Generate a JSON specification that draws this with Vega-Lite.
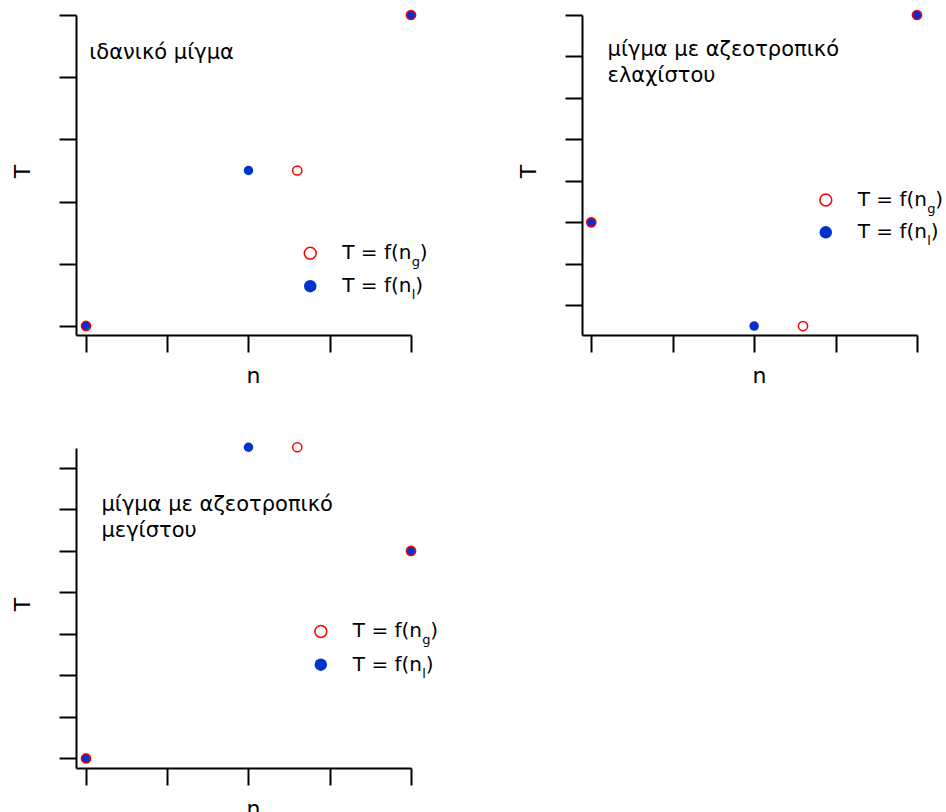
{
 "$schema": "https://vega.github.io/schema/vega-lite/v6.json",
 "padding": {"left": 11, "top": 7, "right": 0, "bottom": 0},
 "background": "white",
 "bounds": "flush",
 "columns": 2,
 "spacing": {"row": 113, "column": 171},
 "datasets": {"pts": [
  {"panel":"a","series":"g","n":0,"T":0},
  {"panel":"a","series":"g","n":2.6,"T":2.5},
  {"panel":"a","series":"g","n":4,"T":5},
  {"panel":"a","series":"l","n":0,"T":0},
  {"panel":"a","series":"l","n":2,"T":2.5},
  {"panel":"a","series":"l","n":4,"T":5},
  {"panel":"b","series":"g","n":0,"T":2},
  {"panel":"b","series":"g","n":2.6,"T":-0.5},
  {"panel":"b","series":"g","n":4,"T":7},
  {"panel":"b","series":"l","n":0,"T":2},
  {"panel":"b","series":"l","n":2,"T":-0.5},
  {"panel":"b","series":"l","n":4,"T":7},
  {"panel":"c","series":"g","n":0,"T":0},
  {"panel":"c","series":"g","n":2.6,"T":7.5},
  {"panel":"c","series":"g","n":4,"T":5},
  {"panel":"c","series":"l","n":0,"T":0},
  {"panel":"c","series":"l","n":2,"T":7.5},
  {"panel":"c","series":"l","n":4,"T":5}
 ]},
 "concat": [
  {
   "width": 335, "height": 320,
   "data": {"name": "pts"},
   "transform": [{"filter": "datum.panel === 'a'"}],
   "layer": [
    {"transform": [{"filter": "datum.series === 'l'"}],
     "mark": {"type": "point", "shape": "circle", "filled": true, "color": "#0033cc", "size": 90, "opacity": 1},
     "encoding": {
      "x": {"field": "n", "type": "quantitative", "scale": {"domain": [-0.123, 4], "nice": false, "zero": false}, "axis": {"values": [0,1,2,3,4], "title": "n"}},
      "y": {"field": "T", "type": "quantitative", "scale": {"domain": [-0.145, 5], "nice": false, "zero": false}, "axis": {"values": [0,1,2,3,4,5], "title": "T"}}
     }},
    {"transform": [{"filter": "datum.series === 'g'"}],
     "mark": {"type": "point", "shape": "circle", "filled": false, "color": "#ff0000", "size": 85, "strokeWidth": 1.5, "opacity": 1},
     "encoding": {"x": {"field": "n", "type": "quantitative"}, "y": {"field": "T", "type": "quantitative"}}},
    {"data": {"values": [{}]},
     "mark": {"type": "text", "text": ["ιδανικό μίγμα"], "align": "left", "baseline": "alphabetic", "fontSize": 21, "font": "DejaVu Sans", "color": "black", "lineHeight": 26},
     "encoding": {"x": {"datum": 0.04}, "y": {"datum": 4.29}}},
    {"data": {"values": [{}]},
     "mark": {"type": "point", "shape": "circle", "filled": false, "color": "#ff0000", "size": 140, "strokeWidth": 1.5, "opacity": 1},
     "encoding": {"x": {"datum": 2.76}, "y": {"datum": 1.17}}},
    {"data": {"values": [{}]},
     "mark": {"type": "point", "shape": "circle", "filled": true, "color": "#0033cc", "size": 155, "opacity": 1},
     "encoding": {"x": {"datum": 2.76}, "y": {"datum": 0.64}}},
    {"data": {"values": [{}]},
     "mark": {"type": "text", "text": "T = f(n", "align": "left", "baseline": "alphabetic", "dx": 32, "dy": 6, "fontSize": 20, "font": "DejaVu Sans", "color": "black"},
     "encoding": {"x": {"datum": 2.76}, "y": {"datum": 1.17}}},
    {"data": {"values": [{}]},
     "mark": {"type": "text", "text": "g", "align": "left", "baseline": "alphabetic", "dx": 101.5, "dy": 13, "fontSize": 13, "font": "DejaVu Sans", "color": "black"},
     "encoding": {"x": {"datum": 2.76}, "y": {"datum": 1.17}}},
    {"data": {"values": [{}]},
     "mark": {"type": "text", "text": ")", "align": "left", "baseline": "alphabetic", "dx": 109.5, "dy": 6, "fontSize": 20, "font": "DejaVu Sans", "color": "black"},
     "encoding": {"x": {"datum": 2.76}, "y": {"datum": 1.17}}},
    {"data": {"values": [{}]},
     "mark": {"type": "text", "text": "T = f(n", "align": "left", "baseline": "alphabetic", "dx": 32, "dy": 6, "fontSize": 20, "font": "DejaVu Sans", "color": "black"},
     "encoding": {"x": {"datum": 2.76}, "y": {"datum": 0.64}}},
    {"data": {"values": [{}]},
     "mark": {"type": "text", "text": "l", "align": "left", "baseline": "alphabetic", "dx": 101.5, "dy": 13, "fontSize": 13, "font": "DejaVu Sans", "color": "black"},
     "encoding": {"x": {"datum": 2.76}, "y": {"datum": 0.64}}},
    {"data": {"values": [{}]},
     "mark": {"type": "text", "text": ")", "align": "left", "baseline": "alphabetic", "dx": 105, "dy": 6, "fontSize": 20, "font": "DejaVu Sans", "color": "black"},
     "encoding": {"x": {"datum": 2.76}, "y": {"datum": 0.64}}}
   ]
  },
  {
   "width": 335, "height": 320,
   "data": {"name": "pts"},
   "transform": [{"filter": "datum.panel === 'b'"}],
   "layer": [
    {"transform": [{"filter": "datum.series === 'l'"}],
     "mark": {"type": "point", "shape": "circle", "filled": true, "color": "#0033cc", "size": 90, "opacity": 1},
     "encoding": {
      "x": {"field": "n", "type": "quantitative", "scale": {"domain": [-0.114, 4], "nice": false, "zero": false}, "axis": {"values": [0,1,2,3,4], "title": "n"}},
      "y": {"field": "T", "type": "quantitative", "scale": {"domain": [-0.716, 7], "nice": false, "zero": false}, "axis": {"values": [0,1,2,3,4,5,6,7], "title": "T"}}
     }},
    {"transform": [{"filter": "datum.series === 'g'"}],
     "mark": {"type": "point", "shape": "circle", "filled": false, "color": "#ff0000", "size": 85, "strokeWidth": 1.5, "opacity": 1},
     "encoding": {"x": {"field": "n", "type": "quantitative"}, "y": {"field": "T", "type": "quantitative"}}},
    {"data": {"values": [{}]},
     "mark": {"type": "text", "text": ["μίγμα με αζεοτροπικό", "ελαχίστου"], "align": "left", "baseline": "alphabetic", "fontSize": 21, "font": "DejaVu Sans", "color": "black", "lineHeight": 26},
     "encoding": {"x": {"datum": 0.2}, "y": {"datum": 6.0}}},
    {"data": {"values": [{}]},
     "mark": {"type": "point", "shape": "circle", "filled": false, "color": "#ff0000", "size": 140, "strokeWidth": 1.5, "opacity": 1},
     "encoding": {"x": {"datum": 2.88}, "y": {"datum": 2.54}}},
    {"data": {"values": [{}]},
     "mark": {"type": "point", "shape": "circle", "filled": true, "color": "#0033cc", "size": 155, "opacity": 1},
     "encoding": {"x": {"datum": 2.88}, "y": {"datum": 1.76}}},
    {"data": {"values": [{}]},
     "mark": {"type": "text", "text": "T = f(n", "align": "left", "baseline": "alphabetic", "dx": 32, "dy": 6, "fontSize": 20, "font": "DejaVu Sans", "color": "black"},
     "encoding": {"x": {"datum": 2.88}, "y": {"datum": 2.54}}},
    {"data": {"values": [{}]},
     "mark": {"type": "text", "text": "g", "align": "left", "baseline": "alphabetic", "dx": 101.5, "dy": 13, "fontSize": 13, "font": "DejaVu Sans", "color": "black"},
     "encoding": {"x": {"datum": 2.88}, "y": {"datum": 2.54}}},
    {"data": {"values": [{}]},
     "mark": {"type": "text", "text": ")", "align": "left", "baseline": "alphabetic", "dx": 109.5, "dy": 6, "fontSize": 20, "font": "DejaVu Sans", "color": "black"},
     "encoding": {"x": {"datum": 2.88}, "y": {"datum": 2.54}}},
    {"data": {"values": [{}]},
     "mark": {"type": "text", "text": "T = f(n", "align": "left", "baseline": "alphabetic", "dx": 32, "dy": 6, "fontSize": 20, "font": "DejaVu Sans", "color": "black"},
     "encoding": {"x": {"datum": 2.88}, "y": {"datum": 1.76}}},
    {"data": {"values": [{}]},
     "mark": {"type": "text", "text": "l", "align": "left", "baseline": "alphabetic", "dx": 101.5, "dy": 13, "fontSize": 13, "font": "DejaVu Sans", "color": "black"},
     "encoding": {"x": {"datum": 2.88}, "y": {"datum": 1.76}}},
    {"data": {"values": [{}]},
     "mark": {"type": "text", "text": ")", "align": "left", "baseline": "alphabetic", "dx": 105, "dy": 6, "fontSize": 20, "font": "DejaVu Sans", "color": "black"},
     "encoding": {"x": {"datum": 2.88}, "y": {"datum": 1.76}}}
   ]
  },
  {
   "width": 335, "height": 320,
   "data": {"name": "pts"},
   "transform": [{"filter": "datum.panel === 'c'"}],
   "layer": [
    {"transform": [{"filter": "datum.series === 'l'"}],
     "mark": {"type": "point", "shape": "circle", "filled": true, "color": "#0033cc", "size": 90, "opacity": 1},
     "encoding": {
      "x": {"field": "n", "type": "quantitative", "scale": {"domain": [-0.123, 4], "nice": false, "zero": false}, "axis": {"values": [0,1,2,3,4], "title": "n"}},
      "y": {"field": "T", "type": "quantitative", "scale": {"domain": [-0.231, 7.482], "nice": false, "zero": false}, "axis": {"values": [0,1,2,3,4,5,6,7], "title": "T"}}
     }},
    {"transform": [{"filter": "datum.series === 'g'"}],
     "mark": {"type": "point", "shape": "circle", "filled": false, "color": "#ff0000", "size": 85, "strokeWidth": 1.5, "opacity": 1},
     "encoding": {"x": {"field": "n", "type": "quantitative"}, "y": {"field": "T", "type": "quantitative"}}},
    {"data": {"values": [{}]},
     "mark": {"type": "text", "text": ["μίγμα με αζεοτροπικό", "μεγίστου"], "align": "left", "baseline": "alphabetic", "fontSize": 21, "font": "DejaVu Sans", "color": "black", "lineHeight": 26},
     "encoding": {"x": {"datum": 0.19}, "y": {"datum": 5.97}}},
    {"data": {"values": [{}]},
     "mark": {"type": "point", "shape": "circle", "filled": false, "color": "#ff0000", "size": 140, "strokeWidth": 1.5, "opacity": 1},
     "encoding": {"x": {"datum": 2.89}, "y": {"datum": 3.06}}},
    {"data": {"values": [{}]},
     "mark": {"type": "point", "shape": "circle", "filled": true, "color": "#0033cc", "size": 155, "opacity": 1},
     "encoding": {"x": {"datum": 2.89}, "y": {"datum": 2.26}}},
    {"data": {"values": [{}]},
     "mark": {"type": "text", "text": "T = f(n", "align": "left", "baseline": "alphabetic", "dx": 32, "dy": 6, "fontSize": 20, "font": "DejaVu Sans", "color": "black"},
     "encoding": {"x": {"datum": 2.89}, "y": {"datum": 3.06}}},
    {"data": {"values": [{}]},
     "mark": {"type": "text", "text": "g", "align": "left", "baseline": "alphabetic", "dx": 101.5, "dy": 13, "fontSize": 13, "font": "DejaVu Sans", "color": "black"},
     "encoding": {"x": {"datum": 2.89}, "y": {"datum": 3.06}}},
    {"data": {"values": [{}]},
     "mark": {"type": "text", "text": ")", "align": "left", "baseline": "alphabetic", "dx": 109.5, "dy": 6, "fontSize": 20, "font": "DejaVu Sans", "color": "black"},
     "encoding": {"x": {"datum": 2.89}, "y": {"datum": 3.06}}},
    {"data": {"values": [{}]},
     "mark": {"type": "text", "text": "T = f(n", "align": "left", "baseline": "alphabetic", "dx": 32, "dy": 6, "fontSize": 20, "font": "DejaVu Sans", "color": "black"},
     "encoding": {"x": {"datum": 2.89}, "y": {"datum": 2.26}}},
    {"data": {"values": [{}]},
     "mark": {"type": "text", "text": "l", "align": "left", "baseline": "alphabetic", "dx": 101.5, "dy": 13, "fontSize": 13, "font": "DejaVu Sans", "color": "black"},
     "encoding": {"x": {"datum": 2.89}, "y": {"datum": 2.26}}},
    {"data": {"values": [{}]},
     "mark": {"type": "text", "text": ")", "align": "left", "baseline": "alphabetic", "dx": 105, "dy": 6, "fontSize": 20, "font": "DejaVu Sans", "color": "black"},
     "encoding": {"x": {"datum": 2.89}, "y": {"datum": 2.26}}}
   ]
  }
 ],
 "config": {
  "view": {"stroke": null},
  "font": "DejaVu Sans",
  "axis": {"labels": false, "grid": false, "ticks": true, "tickSize": 17, "tickWidth": 2, "tickColor": "black", "domainColor": "black", "domainWidth": 2, "titleFont": "DejaVu Sans", "titleFontSize": 22, "titleFontWeight": "normal", "titleColor": "black"},
  "axisX": {"titleX": 177, "titleY": 40, "titleBaseline": "middle", "titleAlign": "center"},
  "axisY": {"titleX": -54, "titleY": 156, "titleBaseline": "middle", "titleAlign": "center", "titleAngle": 270}
 }
}
